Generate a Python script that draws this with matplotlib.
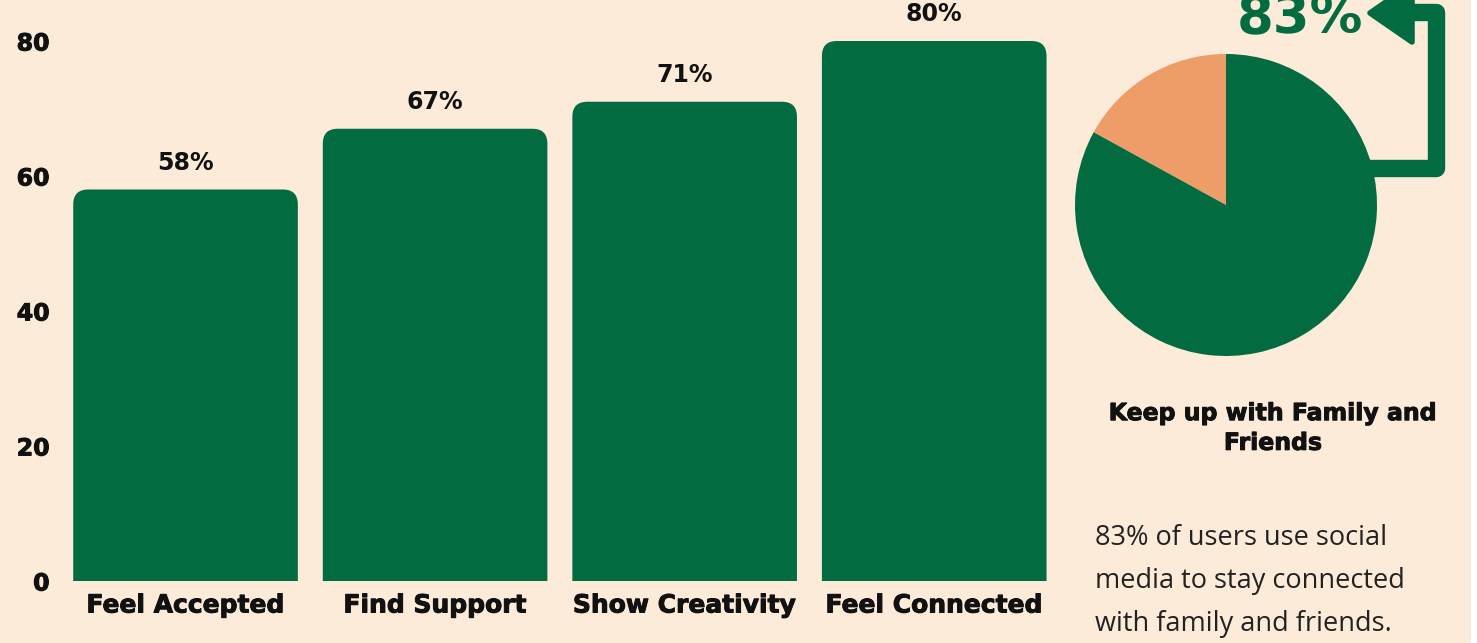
"""
Social media use: bar chart of reasons plus a pie for keeping up with family and friends.
"""

import matplotlib
matplotlib.use("Agg")
import matplotlib.pyplot as plt
import matplotlib.patheffects as pe
from matplotlib.patches import FancyBboxPatch, Polygon
from matplotlib.lines import Line2D

# Data
categories = ["Feel Accepted", "Find Support", "Show Creativity", "Feel Connected"]
values = [58, 67, 71, 80]
y_ticks = [0, 20, 40, 60, 80]

pie_values = [17, 83]          # other, keep up with family and friends
pie_headline = "83%"
pie_title = "Keep up with Family and\nFriends"
pie_text = "83% of users use social\nmedia to stay connected\nwith family and friends."

# Colours
BG = "#FDEBD9"
GREEN = "#036B40"
ORANGE = "#EE9D69"
INK = "#111111"

W, H = 1477, 643
heavy = [pe.withStroke(linewidth=0.7, foreground=INK)]


def fx(x):
    return x / W


def fy(y):
    return 1 - y / H


fig = plt.figure(figsize=(W / 100, H / 100), dpi=100)
fig.patch.set_facecolor("white")

# Rounded background panel
panel = FancyBboxPatch((fx(0), fy(690)), fx(1471), 760 / H,
                       boxstyle="round,pad=0,rounding_size=0.035",
                       mutation_aspect=W / H,
                       transform=fig.transFigure, fc=BG, ec="none", zorder=-5)
fig.patches.append(panel)

# Bar chart (rounded tops; the rounded bottoms fall below y=0 and get clipped)
ax = fig.add_axes([fx(60.75), fy(581), (1059 - 60.75) / W, 540 / H])
ax.set_facecolor("none")
x = range(len(categories))
bars = ax.bar(x, values, width=0.9, color=GREEN)
for rect, v in zip(bars, values):
    x0, w, h = rect.get_x(), rect.get_width(), rect.get_height()
    rect.set_visible(False)
    ax.add_patch(FancyBboxPatch((x0, -6), w, h + 6,
                                boxstyle="round,pad=0,rounding_size=0.06",
                                mutation_aspect=37, fc=GREEN, ec="none"))
    ax.text(rect.get_x() + w / 2, h + 2.2, f"{v}%", ha="center", va="bottom",
            fontsize=17, fontweight="bold", color=INK)

ax.set_xlim(-0.5, len(categories) - 0.5)
ax.set_ylim(0, 80)
ax.set_yticks(y_ticks)
ax.set_yticklabels([str(t) for t in y_ticks], fontsize=17, fontweight="bold", color=INK)
ax.set_xticks(list(x))
ax.set_xticklabels(categories, fontsize=18, fontweight="bold", color=INK)
for lab in ax.get_xticklabels() + ax.get_yticklabels():
    lab.set_path_effects(heavy)
ax.tick_params(length=0, axis="y", pad=8)
ax.tick_params(length=0, axis="x", pad=9)
for s in ax.spines.values():
    s.set_visible(False)

# Pie
r = 151
pax = fig.add_axes([fx(1226 - r), fy(205 + r), 2 * r / W, 2 * r / H])
pax.pie(pie_values, colors=[ORANGE, GREEN], startangle=90, counterclock=True,
        wedgeprops=dict(linewidth=0))
pax.set_xlim(-1, 1)
pax.set_ylim(-1, 1)
pax.set_aspect("auto")

# Arrow from pie to headline
arrow = Line2D([fx(1360), fx(1436), fx(1436), fx(1405)],
               [fy(168), fy(168), fy(12), fy(12)],
               transform=fig.transFigure, color=GREEN, lw=12.5,
               solid_joinstyle="round", solid_capstyle="butt", zorder=3)
fig.lines.append(arrow)
head = Polygon([(fx(1370), fy(13)), (fx(1412), fy(42)), (fx(1412), fy(-16))],
               closed=True, transform=fig.transFigure, fc=GREEN, ec=GREEN,
               lw=4, joinstyle="round", zorder=3)
fig.patches.append(head)

fig.text(fx(1300), fy(33), pie_headline, ha="center", va="baseline",
         fontsize=38, fontweight="bold", color=GREEN)

fig.text(fx(1273), fy(428), pie_title, ha="center", va="center",
         fontsize=17, fontweight="bold", color=INK, linespacing=1.3,
         path_effects=heavy)

fig.text(fx(1095), fy(581), pie_text, ha="left", va="center",
         fontsize=19.5, color="#222222", linespacing=1.7, family="Open Sans")

fig.savefig("out.png", dpi=100, facecolor=fig.get_facecolor())
